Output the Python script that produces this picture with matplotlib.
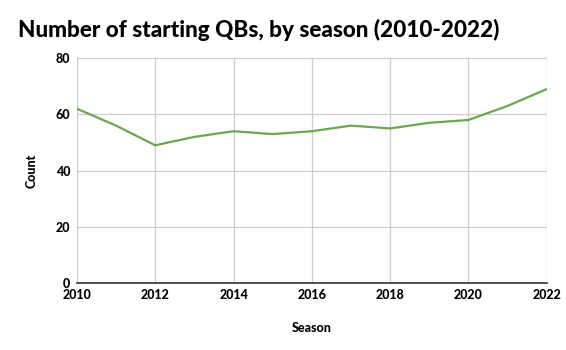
import matplotlib
matplotlib.use("Agg")
import matplotlib.pyplot as plt

seasons = [2010, 2011, 2012, 2013, 2014, 2015, 2016, 2017, 2018, 2019, 2020, 2021, 2022]
counts = [62, 56, 49, 52, 54, 53, 54, 56, 55, 57, 58, 63, 69]
x_ticks = [2010, 2012, 2014, 2016, 2018, 2020, 2022]
y_ticks = [0, 20, 40, 60, 80]

plt.rcParams['font.family'] = ['Lato', 'DejaVu Sans']

fig = plt.figure(figsize=(5.66, 3.5), dpi=100)
ax = fig.add_axes([0.136, 0.191, 0.830, 0.643])
ax.plot(seasons, counts, color='#6aa84f', linewidth=1.6)
ax.set_xlim(2010, 2022)
ax.set_ylim(0, 80)
ax.set_xticks(x_ticks)
ax.set_yticks(y_ticks)
ax.grid(True, color='#cccccc', linewidth=0.9)
ax.set_axisbelow(True)
for s in ['top', 'right', 'left']:
    ax.spines[s].set_visible(False)
ax.spines['bottom'].set_color('#333333')
ax.spines['bottom'].set_linewidth(1.2)
ax.tick_params(axis='x', length=0, pad=4)
ax.tick_params(axis='y', length=0, pad=5)
for lab in ax.get_xticklabels() + ax.get_yticklabels():
    lab.set_fontweight('black')
    lab.set_fontsize(9)
ax.set_xlabel('Season', fontweight='black', fontsize=9, labelpad=15)
ax.set_ylabel('Count', fontweight='black', fontsize=9, labelpad=13)
fig.text(0.032, 0.915, 'Number of starting QBs, by season (2010-2022)',
         fontsize=16.2, fontweight='black', ha='left', va='center')
fig.savefig('out.png', dpi=100)
